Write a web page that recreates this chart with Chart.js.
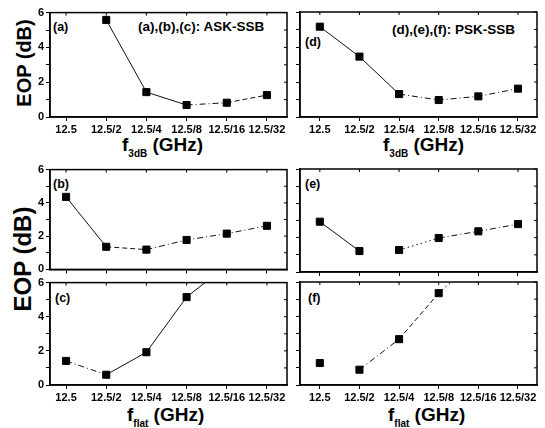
<!DOCTYPE html>
<html>
<head>
<meta charset="utf-8">
<script src="https://cdn.jsdelivr.net/npm/chart.js@4"></script>
<style>
  body { margin: 0; background: #fff; }
  #fig { position: relative; width: 545px; height: 428px; overflow: hidden;
         font-family: 'Liberation Sans', Arial, sans-serif; font-weight: bold; color: #000; }
  #fig canvas { position: absolute; }
  .t { position: absolute; white-space: nowrap; line-height: 1; }
  .tag { font-size: 12.5px; }
  .note { font-size: 13.5px; }
  .xt { font-size: 19px; }
  .xt span { font-size: 10px; position: relative; top: 6px; }
  .yt { transform: translate(-50%, -50%) rotate(-90deg); }
</style>
</head>
<body>
<div id="fig">
  <div class="t yt" style="left:24px;top:63px;font-size:20px">EOP (dB)</div>
  <div class="t yt" style="left:23px;top:259px;font-size:24px">EOP (dB)</div>

  <div class="t xt" style="left:122px;top:135px">f<span>3dB</span> (GHz)</div>
  <div class="t xt" style="left:383px;top:135px">f<span>3dB</span> (GHz)</div>
  <div class="t xt" style="left:127px;top:405px">f<span>flat</span> (GHz)</div>
  <div class="t xt" style="left:388px;top:405px">f<span>flat</span> (GHz)</div>

  <div class="t tag" style="left:53px;top:21px">(a)</div>
  <div class="t note" style="left:138px;top:20px">(a),(b),(c): ASK-SSB</div>
  <div class="t tag" style="left:305px;top:36px">(d)</div>
  <div class="t note" style="left:392px;top:23px">(d),(e),(f): PSK-SSB</div>
  <div class="t tag" style="left:53px;top:178px">(b)</div>
  <div class="t tag" style="left:305px;top:178px">(e)</div>
  <div class="t tag" style="left:55px;top:292px">(c)</div>
  <div class="t tag" style="left:308px;top:292px">(f)</div>
</div>
<script>
// x categories (bandwidths) and EOP values
const categories = ['12.5', '12.5/2', '12.5/4', '12.5/8', '12.5/16', '12.5/32'];
const eopA = [null, 5.58, 1.43, 0.69, 0.82, 1.26];
const eopB = [4.36, 1.36, 1.19, 1.77, 2.15, 2.62];
const eopC = [1.41, 0.60, 1.92, 5.15, 7.0, null];
const eopD = [5.16, 3.45, 1.31, 0.97, 1.18, 1.62];
const eopE = [2.93, 1.22, 1.28, 1.98, 2.37, 2.79];
const eopF = [1.28, 0.89, 2.67, 5.35, 7.4, null];
const yTicks = [0, 1, 2, 3, 4, 5, 6];

const dashes = { '-': [], '--': [5, 3], '-.': [6, 3, 1, 3], ':': [1.5, 3] };
const tickFont = { family: "'Liberation Sans', Arial, sans-serif", size: 11, weight: 'bold' };

// plot box: [left, top, right, bottom] in page pixels
const panels = [
  { data: eopA, segs: [null, '-', '-', '-.', '--'], xLabels: true,  yLabels: true,  plot: [50, 12, 287, 117],  xr: [-0.4, 5.5] },
  { data: eopD, segs: ['-', '-', '-.', '-.', '-.'], xLabels: true,  yLabels: false, plot: [300, 12, 537, 117], xr: [-0.5, 5.48] },
  { data: eopB, segs: ['-', '--', '-.', '-.', '-.'], xLabels: false, yLabels: true,  plot: [50, 169, 287, 273], xr: [-0.4, 5.5] },
  { data: eopE, segs: ['-', 'none', ':', '-.', '-.'], xLabels: false, yLabels: false, plot: [300, 169, 537, 273], xr: [-0.5, 5.48] },
  { data: eopC, segs: ['-.', '-', '-', '-', null], xLabels: true,  yLabels: true,  plot: [50, 282, 287, 385], xr: [-0.4, 5.5] },
  { data: eopF, segs: ['none', '-.', '--', ':', null], xLabels: true,  yLabels: false, plot: [300, 282, 537, 385], xr: [-0.5, 5.48] }
];

// full box with inward ticks on top and right
const framePlugin = {
  id: 'frame',
  afterDraw(chart) {
    const { ctx, chartArea: a, scales: { x, y } } = chart;
    ctx.save();
    ctx.strokeStyle = '#000';
    ctx.lineWidth = 1.5;
    ctx.strokeRect(a.left, a.top, a.right - a.left, a.bottom - a.top);
    ctx.lineWidth = 1;
    ctx.beginPath();
    x.ticks.forEach(t => {
      const px = x.getPixelForValue(t.value);
      ctx.moveTo(px, a.top); ctx.lineTo(px, a.top + 3);
    });
    y.ticks.forEach(t => {
      const py = y.getPixelForValue(t.value);
      ctx.moveTo(a.right, py); ctx.lineTo(a.right - 3, py);
    });
    ctx.stroke();
    ctx.restore();
  }
};

const fig = document.getElementById('fig');

function makePanel(p) {
  const yW = 26, padT = 8, padR = 6, xH = p.xLabels ? 22 : 5;
  const [l, t, r, b] = p.plot;
  const canvas = document.createElement('canvas');
  canvas.width = r - l + yW + padR;
  canvas.height = b - t + padT + xH;
  canvas.style.left = (l - yW) + 'px';
  canvas.style.top = (t - padT) + 'px';
  canvas.style.width = canvas.width + 'px';
  canvas.style.height = canvas.height + 'px';
  fig.appendChild(canvas);

  new Chart(canvas, {
    type: 'line',
    data: {
      datasets: [{
        data: p.data.map((v, i) => ({ x: i, y: v })),
        borderColor: '#111',
        borderWidth: 1,
        pointStyle: 'rect',
        pointRadius: 5,
        pointBackgroundColor: '#000',
        pointBorderColor: '#000',
        pointBorderWidth: 1,
        spanGaps: false,
        segment: {
          borderDash: ctx => dashes[p.segs[ctx.p0DataIndex]] || [],
          borderColor: ctx => p.segs[ctx.p0DataIndex] === 'none' ? 'rgba(0,0,0,0)' : '#111'
        }
      }]
    },
    options: {
      responsive: false,
      animation: false,
      layout: { padding: { top: padT, right: padR, left: 0, bottom: 0 } },
      plugins: { legend: { display: false }, tooltip: { enabled: false } },
      scales: {
        x: {
          type: 'linear',
          min: p.xr[0],
          max: p.xr[1],
          afterBuildTicks: s => { s.ticks = categories.map((c, i) => ({ value: i })); },
          afterFit: s => { s.height = xH; },
          ticks: {
            display: p.xLabels, autoSkip: false, maxRotation: 0, color: '#000',
            font: tickFont, padding: 2,
            callback: v => categories[v]
          },
          grid: { drawOnChartArea: false, color: '#000', tickLength: 4 },
          border: { color: '#000', width: 1.5 }
        },
        y: {
          min: 0,
          max: 6,
          afterBuildTicks: s => { s.ticks = yTicks.map(v => ({ value: v })); },
          afterFit: s => { s.width = yW; },
          ticks: {
            display: p.yLabels, color: '#000', font: tickFont, padding: 2,
            callback: v => (v % 2 === 0 ? String(v) : '')
          },
          grid: { drawOnChartArea: false, color: '#000', tickLength: 4 },
          border: { color: '#000', width: 1.5 }
        }
      }
    },
    plugins: [framePlugin]
  });
}

panels.forEach(makePanel);
</script>
</body>
</html>
